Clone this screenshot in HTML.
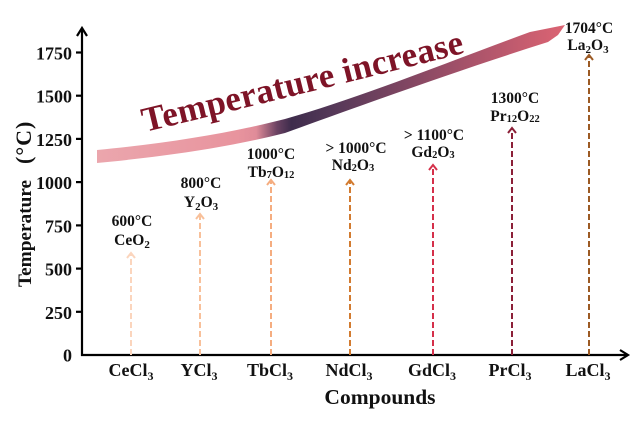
<!DOCTYPE html>
<html>
<head>
<meta charset="utf-8">
<style>
  html,body{margin:0;padding:0;background:#fff;}
  svg{display:block;}
  text{font-family:"Liberation Serif","Times New Roman",serif;font-weight:bold;fill:#111;}
</style>
</head>
<body>
<svg width="639" height="422" viewBox="0 0 639 422" xmlns="http://www.w3.org/2000/svg">
  <defs>
    <linearGradient id="band" gradientUnits="userSpaceOnUse" x1="97" y1="0" x2="565" y2="0">
      <stop offset="0" stop-color="#eba6ad"/>
      <stop offset="0.3" stop-color="#e8949e"/>
      <stop offset="0.34" stop-color="#e08c99"/>
      <stop offset="0.385" stop-color="#6a4262"/>
      <stop offset="0.415" stop-color="#3e2c4c"/>
      <stop offset="0.5" stop-color="#543858"/>
      <stop offset="0.65" stop-color="#7d4561"/>
      <stop offset="0.8" stop-color="#a9536a"/>
      <stop offset="1" stop-color="#dc6473"/>
    </linearGradient>
    <path id="tp" d="M145,132 Q291,97 472,51"/>
  </defs>

  <!-- gradient band arrow -->
  <path fill="url(#band)" d="M97,150 C170,143 230,133 285,119 C360,98 450,61 530,32 L565,25 L558,35 L548,42 C450,73 360,106 285,133 C230,147 170,156 97,163 Z"/>

  <!-- banner text -->
  <text font-size="35" style="fill:#7e1427" textLength="330" lengthAdjust="spacing"><textPath href="#tp">Temperature increase</textPath></text>

  <!-- axes -->
  <g stroke="#000" stroke-width="2.2" fill="none">
    <line x1="82" y1="356" x2="82" y2="29"/>
    <polyline points="77,36 82,28 87,36"/>
    <line x1="81" y1="355" x2="628" y2="355"/>
    <polyline points="620,350 628,355 620,360"/>
    <line x1="76" y1="52.5" x2="82" y2="52.5"/>
    <line x1="76" y1="95.7" x2="82" y2="95.7"/>
    <line x1="76" y1="138.9" x2="82" y2="138.9"/>
    <line x1="76" y1="182.1" x2="82" y2="182.1"/>
    <line x1="76" y1="225.4" x2="82" y2="225.4"/>
    <line x1="76" y1="268.6" x2="82" y2="268.6"/>
    <line x1="76" y1="311.8" x2="82" y2="311.8"/>
  </g>

  <!-- tick labels -->
  <g font-size="18" text-anchor="end">
    <text x="72" y="59.5">1750</text>
    <text x="72" y="102.7">1500</text>
    <text x="72" y="145.9">1250</text>
    <text x="72" y="189.1">1000</text>
    <text x="72" y="232.4">750</text>
    <text x="72" y="275.6">500</text>
    <text x="72" y="318.8">250</text>
    <text x="72" y="361.5">0</text>
  </g>

  <!-- y axis label -->
  <text font-size="19.3" transform="translate(31,287) rotate(-90)">Temperature</text>
  <text font-size="22" letter-spacing="1" transform="translate(31,164) rotate(-90)">(°C)</text>

  <!-- x labels -->
  <g font-size="18" text-anchor="middle">
    <text x="131" y="376">CeCl<tspan font-size="12" dy="4">3</tspan></text>
    <text x="199" y="376">YCl<tspan font-size="12" dy="4">3</tspan></text>
    <text x="270" y="376">TbCl<tspan font-size="12" dy="4">3</tspan></text>
    <text x="349" y="376">NdCl<tspan font-size="12" dy="4">3</tspan></text>
    <text x="432" y="376">GdCl<tspan font-size="12" dy="4">3</tspan></text>
    <text x="510" y="376">PrCl<tspan font-size="12" dy="4">3</tspan></text>
    <text x="588" y="376">LaCl<tspan font-size="12" dy="4">3</tspan></text>
  </g>
  <text font-size="21.5" x="380" y="404" text-anchor="middle">Compounds</text>

  <!-- dashed arrows -->
  <g fill="none" stroke-width="2">
    <g stroke="#fbd5bd">
      <line x1="131" y1="355" x2="131" y2="254" stroke-dasharray="6 3"/>
      <polyline points="127,258 131,253 135,258"/>
    </g>
    <g stroke="#f8c09a">
      <line x1="200" y1="355" x2="200" y2="215" stroke-dasharray="6 3"/>
      <polyline points="196,219 200,214 204,219"/>
    </g>
    <g stroke="#f5ad80">
      <line x1="271" y1="355" x2="271" y2="181" stroke-dasharray="6 3"/>
      <polyline points="267,185 271,180 275,185"/>
    </g>
    <g stroke="#d27b30">
      <line x1="350" y1="355" x2="350" y2="181" stroke-dasharray="6 3"/>
      <polyline points="346,185 350,180 354,185"/>
    </g>
    <g stroke="#d5304a">
      <line x1="433" y1="355" x2="433" y2="166" stroke-dasharray="6 3"/>
      <polyline points="429,170 433,165 437,170"/>
    </g>
    <g stroke="#8c2038">
      <line x1="512" y1="355" x2="512" y2="129" stroke-dasharray="6 3"/>
      <polyline points="508,133 512,128 516,133"/>
    </g>
    <g stroke="#9c5a24">
      <line x1="589" y1="355" x2="589" y2="56" stroke-dasharray="6 3"/>
      <polyline points="585,60 589,55 593,60"/>
    </g>
  </g>

  <!-- data labels -->
  <g font-size="15.5" text-anchor="middle">
    <text x="132" y="226">600°C</text>
    <text x="132" y="245">CeO<tspan font-size="11" dy="3">2</tspan></text>

    <text x="201" y="188">800°C</text>
    <text x="201" y="207">Y<tspan font-size="11" dy="3">2</tspan><tspan dy="-3">O</tspan><tspan font-size="11" dy="3">3</tspan></text>

    <text x="271" y="159">1000°C</text>
    <text x="271" y="177">Tb<tspan font-size="10.5" dy="1">7</tspan><tspan dy="-1">O</tspan><tspan font-size="10.5" dy="1">12</tspan></text>

    <text x="356" y="153">&gt; 1000°C</text>
    <text x="353" y="170">Nd<tspan font-size="10.5" dy="1">2</tspan><tspan dy="-1">O</tspan><tspan font-size="10.5" dy="1">3</tspan></text>

    <text x="434" y="140">&gt; 1100°C</text>
    <text x="433" y="157">Gd<tspan font-size="10.5" dy="1">2</tspan><tspan dy="-1">O</tspan><tspan font-size="10.5" dy="1">3</tspan></text>

    <text x="515" y="103">1300°C</text>
    <text x="515" y="121">Pr<tspan font-size="10.5" dy="1">12</tspan><tspan dy="-1">O</tspan><tspan font-size="10.5" dy="1">22</tspan></text>

    <text x="589" y="33">1704°C</text>
    <text x="588" y="50">La<tspan font-size="11" dy="3">2</tspan><tspan dy="-3">O</tspan><tspan font-size="11" dy="3">3</tspan></text>
  </g>
</svg>
</body>
</html>
